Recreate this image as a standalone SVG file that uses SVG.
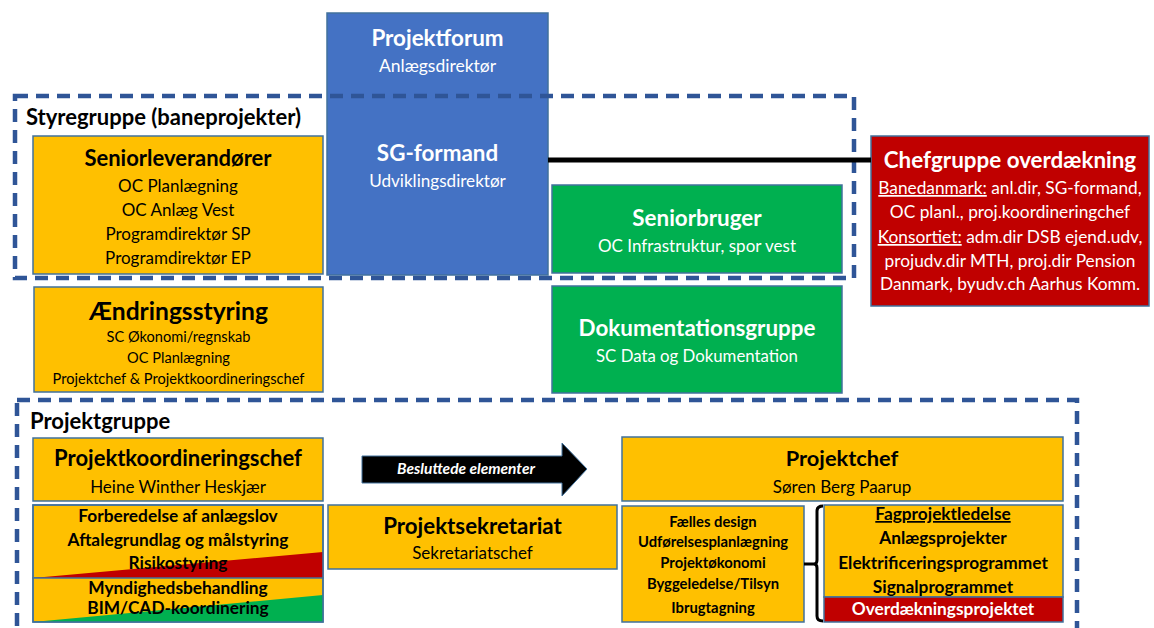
<svg xmlns="http://www.w3.org/2000/svg" width="1154" height="628" viewBox="0 0 1154 628">
<style>
text{font-family:Lato,"Liberation Sans",sans-serif;text-anchor:middle}
.box{stroke:#41719C;stroke-width:1.5}
.y{fill:#FFC000}
.g{fill:#00B050}
.r{fill:#C00000}
.b{fill:#4472C4}
.dash{fill:none;stroke:#2F5597;stroke-width:4.5;stroke-dasharray:13 8}
.t{font-weight:bold;font-size:22px}
.tw{font-weight:bold;font-size:22.4px;fill:#fff}
.s{font-size:17px}
.sw{font-size:17px;fill:#fff}
.it{font-weight:bold;font-size:17.3px}
.lab{font-weight:bold;font-size:22px;text-anchor:start}
</style>
<rect width="1154" height="628" fill="#fff"/>
<g id="projektforum">
<rect class="box b" x="327" y="13" width="221" height="262"/>
<text class="tw" x="437.5" y="46">Projektforum</text>
<text class="sw" x="437.5" y="72" style="font-size:17.5px">Anlægsdirektør</text>
<text class="tw" x="437.5" y="161">SG-formand</text>
<text class="sw" x="437.5" y="187" style="font-size:17.1px">Udviklingsdirektør</text>
</g>
<g id="styregruppe">
<rect class="dash" x="15" y="96" width="839" height="182"/>
<text class="lab" x="26" y="125">Styregruppe (baneprojekter)</text>
</g>
<g id="seniorleverandorer">
<rect class="box y" x="33" y="136" width="290" height="138"/>
<text class="t" x="178" y="166">Seniorleverandører</text>
<text class="s" x="178" y="192">OC Planlægning</text>
<text class="s" x="178" y="216">OC Anlæg Vest</text>
<text class="s" x="178" y="240">Programdirektør SP</text>
<text class="s" x="178" y="264">Programdirektør EP</text>
</g>
<g id="aendringsstyring">
<rect class="box y" x="34" y="287" width="289" height="105"/>
<text class="t" x="178.5" y="320" style="font-size:24.6px">Ændringsstyring</text>
<text class="s" x="178.5" y="342" style="font-size:14.6px">SC Økonomi/regnskab</text>
<text class="s" x="178.5" y="363" style="font-size:14.6px">OC Planlægning</text>
<text class="s" x="178.5" y="384" style="font-size:14.6px">Projektchef &amp; Projektkoordineringschef</text>
</g>
<g id="seniorbruger">
<rect class="box g" x="552" y="185" width="290" height="88"/>
<text class="tw" x="697" y="226">Seniorbruger</text>
<text class="sw" x="697" y="252">OC Infrastruktur, spor vest</text>
</g>
<g id="dokumentationsgruppe">
<rect class="box g" x="552" y="286" width="290" height="107"/>
<text class="tw" x="697" y="336">Dokumentationsgruppe</text>
<text class="sw" x="697" y="362" style="font-size:16.8px">SC Data og Dokumentation</text>
</g>
<g id="chefgruppe">
<rect class="box r" x="871" y="136" width="278" height="170"/>
<text class="tw" x="1010" y="168">Chefgruppe overdækning</text>
<text class="sw" x="1010" y="194" style="font-size:17.3px"><tspan text-decoration="underline">Banedanmark:</tspan> anl.dir, SG-formand,</text>
<text class="sw" x="1010" y="218" style="font-size:17.3px">OC planl., proj.koordineringchef</text>
<text class="sw" x="1010" y="243" style="font-size:17.3px"><tspan text-decoration="underline">Konsortiet:</tspan> adm.dir DSB ejend.udv,</text>
<text class="sw" x="1010" y="267" style="font-size:17.3px">projudv.dir MTH,  proj.dir Pension</text>
<text class="sw" x="1010" y="290" style="font-size:17.3px">Danmark, byudv.ch Aarhus Komm.</text>
</g>
<g id="projektgruppe">
<rect class="dash" x="17" y="400" width="1060" height="250"/>
<text class="lab" x="30" y="429">Projektgruppe</text>
</g>
<g id="projektkoordineringschef">
<rect class="box y" x="33" y="438" width="290" height="63"/>
<text class="t" x="178" y="466">Projektkoordineringschef</text>
<text class="s" x="178" y="493">Heine Winther Heskjær</text>
</g>
<g id="opgaver">
<rect class="box y" x="33" y="505" width="290" height="73"/>
<polygon class="r" points="33,578 323,552 323,578"/>
<rect class="box y" x="33" y="578" width="290" height="44"/>
<polygon class="g" points="33,622 323,595 323,622"/>
<rect x="33" y="505" width="290" height="117" fill="none" stroke="#41719C" stroke-width="1.5"/>
<text class="it" x="178" y="522">Forberedelse af anlægslov</text>
<text class="it" x="178" y="546">Aftalegrundlag og målstyring</text>
<text class="it" x="178" y="569">Risikostyring</text>
<text class="it" x="178" y="594">Myndighedsbehandling</text>
<text class="it" x="178" y="614">BIM/CAD-koordinering</text>
</g>
<g id="beslutninger">
<polygon points="362,456 562,456 562,443 587,469 562,496 562,483 362,483" fill="#000" stroke="#41719C" stroke-width="1"/>
<text x="466" y="474" style="font-size:15.5px;font-weight:bold;font-style:italic;fill:#fff">Besluttede elementer</text>
</g>
<g id="projektsekretariat">
<rect class="box y" x="328" y="505" width="289" height="64"/>
<text class="t" x="472.5" y="534" style="font-size:22.3px">Projektsekretariat</text>
<text class="s" x="472.5" y="559">Sekretariatschef</text>
</g>
<g id="projektchef">
<rect class="box y" x="622" y="437" width="441" height="64"/>
<text class="t" x="842" y="466" style="font-size:21.8px">Projektchef</text>
<text class="s" x="842" y="493">Søren Berg Paarup</text>
</g>
<g id="faelles">
<rect class="box y" x="622" y="506" width="182" height="116"/>
<text class="it" x="713" y="527" style="font-size:14.8px">Fælles design</text>
<text class="it" x="713" y="547" style="font-size:14.8px">Udførelsesplanlægning</text>
<text class="it" x="713" y="568" style="font-size:14.8px">Projektøkonomi</text>
<text class="it" x="713" y="589" style="font-size:14.8px">Byggeledelse/Tilsyn</text>
<text class="it" x="713" y="613" style="font-size:14.8px">Ibrugtagning</text>
</g>
<g id="connectors">
<line x1="548" y1="160" x2="871" y2="160" stroke="#000" stroke-width="5"/>
<path d="M804,564 H814 Q817,564 817,560 V511 Q817,506 823,506 M817,568 V616 Q817,621 823,621 M814,564 Q817,564 817,568" fill="none" stroke="#000" stroke-width="3"/>
</g>
<g id="fagprojektledelse">
<rect class="box y" x="824" y="505" width="239" height="92"/>
<rect class="box r" x="824" y="597" width="239" height="25"/>
<text class="it" x="943" y="520" text-decoration="underline">Fagprojektledelse</text>
<text class="it" x="943" y="544">Anlægsprojekter</text>
<text class="it" x="943" y="569">Elektrificeringsprogrammet</text>
<text class="it" x="943" y="593">Signalprogrammet</text>
<text class="it" x="943" y="615" style="fill:#fff">Overdækningsprojektet</text>
</g>
</svg>
